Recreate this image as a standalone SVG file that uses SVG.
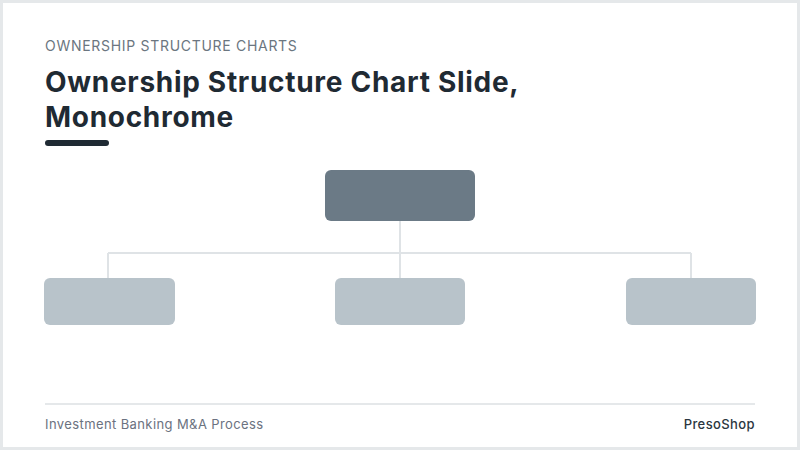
<svg xmlns="http://www.w3.org/2000/svg" width="800" height="450" viewBox="0 0 800 450">
<style>
.kicker{font-family:Inter,"Open Sans",sans-serif;font-size:14px;fill:#6b7680;letter-spacing:0.7px}
.title{font-family:Inter,"Open Sans",sans-serif;font-size:28px;font-weight:700;fill:#1f2a33;letter-spacing:0.7px}
.foot{font-family:Inter,"Open Sans",sans-serif;font-size:13px;fill:#6b7280;letter-spacing:0.4px}
.brand{font-family:Inter,"Open Sans",sans-serif;font-size:13px;font-weight:500;fill:#2b3640;letter-spacing:0.4px}
.top{fill:#6b7a86}
.child{fill:#b8c3ca}
.conn{stroke:#dfe3e6;stroke-width:2;fill:none}
</style>
<rect x="0" y="0" width="800" height="450" fill="#e5e8ea"/>
<rect x="3" y="3" width="794" height="444" fill="#ffffff"/>
<text class="kicker" x="45" y="51">OWNERSHIP STRUCTURE CHARTS</text>
<text class="title" x="45" y="92">Ownership Structure Chart Slide,</text>
<text class="title" x="45" y="127">Monochrome</text>
<rect x="45" y="140" width="64" height="6" rx="3" fill="#1f2a33"/>
<g id="connectors">
<path class="conn" d="M400 221 V278 M108 253 H691 M108 253 V278 M691 253 V278"/>
</g>
<g id="node-top"><rect class="top" x="325" y="170" width="150" height="51" rx="6"/></g>
<g id="node-left"><rect class="child" x="44" y="278" width="131" height="47" rx="6"/></g>
<g id="node-middle"><rect class="child" x="335" y="278" width="130" height="47" rx="6"/></g>
<g id="node-right"><rect class="child" x="626" y="278" width="130" height="47" rx="6"/></g>
<line x1="45" y1="404" x2="755" y2="404" stroke="#e5e8ea" stroke-width="2"/>
<text class="foot" x="45" y="429">Investment Banking M&amp;A Process</text>
<text class="brand" x="755" y="429" text-anchor="end">PresoShop</text>
</svg>
